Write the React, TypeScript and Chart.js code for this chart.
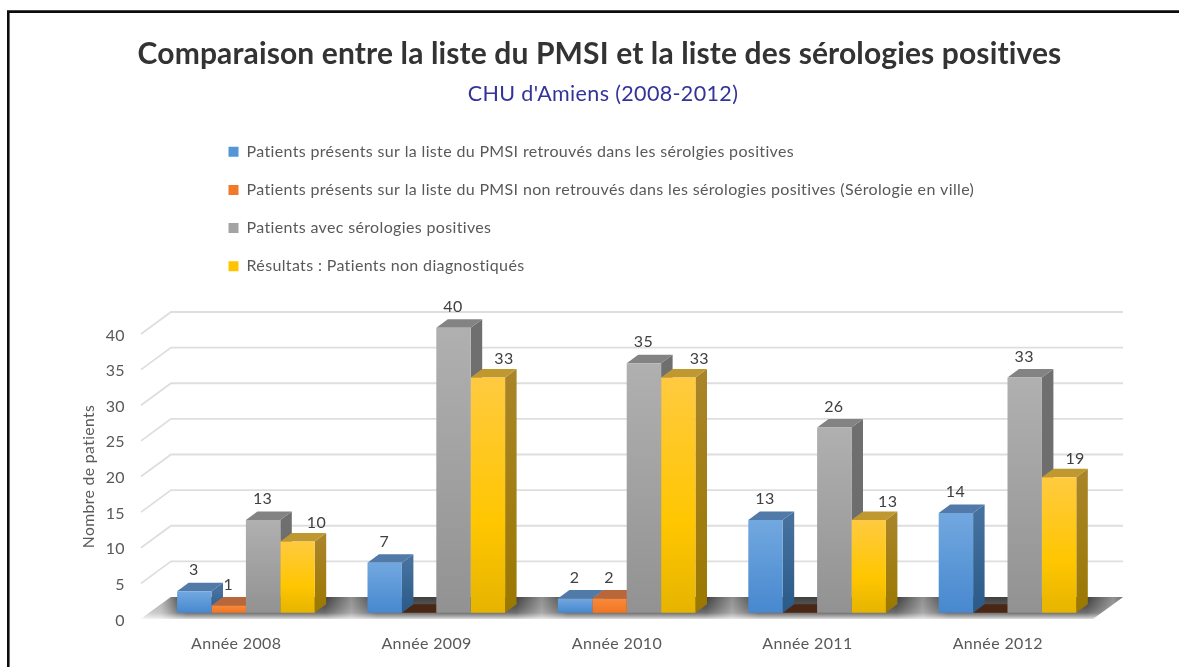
import React, { useEffect, useRef } from "react";
import { Chart, registerables } from "chart.js";

Chart.register(...registerables);

const titleText = "Comparaison entre la liste du PMSI et la liste des sérologies positives";
const subtitleText = "CHU d'Amiens (2008-2012)";
const yAxisTitle = "Nombre de patients";

const categories = ["Année 2008", "Année 2009", "Année 2010", "Année 2011", "Année 2012"];
const seriesNames = [
  "Patients présents sur la liste du PMSI retrouvés dans les sérolgies positives",
  "Patients présents sur la liste du PMSI non retrouvés dans les sérologies positives (Sérologie en ville)",
  "Patients avec sérologies positives",
  "Résultats : Patients non diagnostiqués",
];
const blueValues = [3, 7, 2, 13, 14];
const orangeValues = [1, 0, 2, 0, 0];
const greyValues = [13, 40, 35, 26, 33];
const yellowValues = [10, 33, 33, 13, 19];
const seriesValues = [blueValues, orangeValues, greyValues, yellowValues];

// Face colours per series
const legendColors = ["#5596d6", "#f07a2a", "#a3a3a3", "#ffc400"];
const frontStops = [
  [[0, "#72a8e0"], [1, "#4788cf"]],
  [[0, "#f8893c"], [1, "#f27620"]],
  [[0, "#b0b0b0"], [1, "#929292"]],
  [[0, "#ffca40"], [0.62, "#ffc600"], [1, "#e6b400"]],
];
const sideStops = [
  ["#46719e", "#2a5a88"],
  ["#a85a22", "#a85a22"],
  ["#6f6f6f", "#6b6b6b"],
  ["#a98428", "#9a7800"],
];
const topColors = ["#517aa8", "#b9663a", "#838383", "#c09830"];
const zeroTopColor = "#4a2614";

// Label nudges for the yellow series, as placed in the source chart
const yellowLabelNudge = [19, 16, 21, 19, 16];

const BAR_SHIFT = { x: 9.7, y: -6.3 };
const BAR_DEPTH = { x: 11.5, y: -8.5 };
const WALL_DEPTH = { x: 30, y: -22 };
const FONT = "Lato, Carlito, Calibri, sans-serif";
const TEXT = "#595959";
const BODY_TRACKING = "0.35px";
const TITLE_TRACKING = "0.13px";

function poly(ctx: any, pts: number[][], fill: any) {
  ctx.beginPath();
  pts.forEach((p, i) => (i ? ctx.lineTo(p[0], p[1]) : ctx.moveTo(p[0], p[1])));
  ctx.closePath();
  ctx.fillStyle = fill;
  ctx.fill();
}

const scenePlugin = {
  id: "scene3d",
  beforeDraw(chart: any) {
    const { ctx, width, height } = chart;
    ctx.save();
    ctx.strokeStyle = "#0c0c0c";
    ctx.lineWidth = 2.6;
    ctx.beginPath();
    ctx.moveTo(8.3, height);
    ctx.lineTo(8.3, 11.6);
    ctx.lineTo(width, 11.6);
    ctx.stroke();
    ctx.restore();
    ctx.letterSpacing = BODY_TRACKING;
  },
  afterLayout(chart: any) {
    // Place the title blocks and the legend as the source chart does
    const boxes = chart.boxes as any[];
    const setBox = (b: any, l: number, t: number, r: number, h: number) => {
      b.left = l; b.right = r; b.top = t; b.bottom = t + h; b.width = r - l; b.height = h;
    };
    const titleBoxes = boxes.filter((b) => b.options && typeof b.options.text === "string" && b.options.text.length && b.position === "top");
    titleBoxes.forEach((b) => {
      if (b.options.text === titleText) {
        setBox(b, 0, 36, 1199, 36);
        if (!b.__tracked) {
          b.__tracked = true;
          const drawTitle = b.draw;
          b.draw = function (...args: any[]) {
            chart.ctx.letterSpacing = TITLE_TRACKING;
            drawTitle.apply(this, args);
            chart.ctx.letterSpacing = BODY_TRACKING;
          };
        }
      } else setBox(b, 0, 81, 1206, 28);
    });
    if (chart.legend) setBox(chart.legend, 206.3, 121.5, 1100, 320);
    // The value labels of the source sit slightly below their grid level
    const ys = chart.scales.y;
    if (!ys.__nudged) {
      ys.__nudged = true;
      const drawLabels = ys.drawLabels;
      ys.drawLabels = function (...args: any[]) {
        chart.ctx.save();
        chart.ctx.translate(1, 1.4);
        drawLabels.apply(this, args);
        chart.ctx.restore();
      };
    }
  },
  beforeDatasetsDraw(chart: any) {
    const { ctx, scales } = chart;
    const xs = scales.x;
    const ys = scales.y;
    const y0 = ys.getPixelForValue(0);
    ctx.save();
    // wall grid
    ctx.strokeStyle = "#dedede";
    ctx.lineWidth = 1.8;
    ys.ticks.forEach((t: any) => {
      if (t.value === 0) return;
      const py = ys.getPixelForValue(t.value);
      ctx.beginPath();
      ctx.moveTo(xs.left, py);
      ctx.lineTo(xs.left + WALL_DEPTH.x, py + WALL_DEPTH.y);
      ctx.lineTo(xs.right + WALL_DEPTH.x, py + WALL_DEPTH.y);
      ctx.stroke();
    });
    // floor
    const floor = [
      [xs.left, y0],
      [xs.left + WALL_DEPTH.x, y0 + WALL_DEPTH.y],
      [xs.right + WALL_DEPTH.x, y0 + WALL_DEPTH.y],
      [xs.right, y0],
    ];
    const g = ctx.createLinearGradient(0, y0 + WALL_DEPTH.y, 0, y0);
    g.addColorStop(0, "#404040");
    g.addColorStop(0.5, "#5a5a5a");
    g.addColorStop(0.72, "#707070");
    g.addColorStop(0.88, "#aaaaaa");
    g.addColorStop(1, "#dddddd");
    poly(ctx, floor, g);
    ctx.save();
    ctx.beginPath();
    floor.forEach((p, i) => (i ? ctx.lineTo(p[0], p[1]) : ctx.moveTo(p[0], p[1])));
    ctx.closePath();
    ctx.clip();
    const step = (xs.right - xs.left) / categories.length;
    for (let i = 0; i <= categories.length; i++) {
      const cx = xs.left + step * i + 20;
      const s = ctx.createLinearGradient(cx - 26, 0, cx + 26, 0);
      s.addColorStop(0, "rgba(255,255,255,0)");
      s.addColorStop(0.5, "rgba(255,255,255,0.42)");
      s.addColorStop(1, "rgba(255,255,255,0)");
      ctx.fillStyle = s;
      ctx.fillRect(cx - 26, y0 + WALL_DEPTH.y, 52, -WALL_DEPTH.y);
    }
    // left edge fade
    const fade = ctx.createLinearGradient(xs.left, 0, xs.left + 36, 0);
    fade.addColorStop(0, "rgba(255,255,255,0.75)");
    fade.addColorStop(1, "rgba(255,255,255,0)");
    ctx.fillStyle = fade;
    ctx.fillRect(xs.left, y0 + WALL_DEPTH.y, 36, -WALL_DEPTH.y);
    ctx.restore();

    // Side and top faces, back to front along the series; the front faces come later
    ctx.translate(BAR_SHIFT.x, BAR_SHIFT.y);
    seriesValues.forEach((vals, si) => {
      const meta = chart.getDatasetMeta(si);
      vals.forEach((v, i) => {
        const bar = meta.data[i];
        const l = bar.x - bar.width / 2;
        const r = bar.x + bar.width / 2;
        const top = bar.y;
        const d = BAR_DEPTH;
        if (v > 0) {
          const sg = ctx.createLinearGradient(0, top, 0, y0);
          sg.addColorStop(0, sideStops[si][0]);
          sg.addColorStop(1, sideStops[si][1]);
          poly(ctx, [[r, top], [r + d.x, top + d.y], [r + d.x, y0 + d.y], [r, y0]], sg);
        }
        poly(ctx, [[l, top], [l + d.x, top + d.y], [r + d.x, top + d.y], [r, top]], v > 0 ? topColors[si] : zeroTopColor);
      });
    });
    ctx.restore();
  },
  beforeDatasetDraw(chart: any) {
    chart.ctx.save();
    chart.ctx.translate(BAR_SHIFT.x, BAR_SHIFT.y);
  },
  afterDatasetDraw(chart: any) {
    chart.ctx.restore();
  },
  afterDatasetsDraw(chart: any) {
    const { ctx } = chart;
    ctx.save();
    ctx.font = `16px ${FONT}`;
    ctx.fillStyle = "#404040";
    ctx.textAlign = "center";
    ctx.textBaseline = "middle";
    seriesValues.forEach((vals, si) => {
      const meta = chart.getDatasetMeta(si);
      vals.forEach((v, i) => {
        if (v === 0) return;
        const bar = meta.data[i];
        const backTop = bar.y + BAR_SHIFT.y + BAR_DEPTH.y;
        const nudge = si === 3 ? yellowLabelNudge[i] : -0.5;
        const lift = si === 3 ? 10 : 12.5;
        ctx.fillText(String(v), bar.x + BAR_SHIFT.x + nudge, backTop - lift);
      });
    });
    ctx.restore();
  },
};

export default function App() {
  const ref = useRef<HTMLCanvasElement>(null);
  useEffect(() => {
    document.body.style.margin = "0";
    document.body.style.background = "#fff";
    const chart = new Chart(ref.current as HTMLCanvasElement, {
      type: "bar",
      data: {
        labels: categories,
        datasets: seriesValues.map((values, si) => ({
          label: seriesNames[si],
          data: values,
          clip: false as any,
          barPercentage: 1,
          categoryPercentage: 0.7227,
          borderWidth: 0,
          backgroundColor: (c: any) => {
            if (c.type !== "data" || !c.chart.chartArea) return legendColors[si];
            const s = c.chart.scales.y;
            const y1 = s.getPixelForValue(values[c.dataIndex]);
            const y0 = s.getPixelForValue(0);
            if (y1 === y0) return legendColors[si];
            const g = c.chart.ctx.createLinearGradient(0, y1, 0, y0);
            frontStops[si].forEach((st: any) => g.addColorStop(st[0], st[1]));
            return g;
          },
        })),
      },
      options: {
        responsive: false,
        animation: false,
        devicePixelRatio: 1,
        layout: { padding: { top: 272.2, left: 78, right: 86, bottom: 8 } },
        plugins: {
          tooltip: { enabled: false },
          title: {
            display: true,
            text: titleText,
            color: "#333333",
            font: { family: FONT, size: 30, weight: "bold" },
            padding: { top: 0, bottom: 0 },
          },
          subtitle: {
            display: true,
            text: subtitleText,
            color: "#333399",
            font: { family: FONT, size: 21.5, weight: "normal" },
            padding: { top: 0, bottom: 0 },
          },
          legend: {
            position: "left",
            align: "start",
            maxWidth: 1,
            onClick: undefined as any,
            labels: {
              boxWidth: 10,
              boxHeight: 10,
              padding: 22.2,
              color: TEXT,
              font: { family: FONT, size: 16 },
              generateLabels: (chart: any) =>
                (Chart.defaults.plugins.legend.labels as any)
                  .generateLabels(chart)
                  .map((item: any, i: number) => ({ ...item, fillStyle: legendColors[i] })),
            },
          },
        },
        scales: {
          x: {
            afterFit: (s: any) => { s.height = 40; },
            grid: { display: false, drawTicks: false },
            border: { display: false },
            ticks: { color: TEXT, font: { family: FONT, size: 16 }, padding: 15, maxRotation: 0, autoSkip: false },
          },
          y: {
            min: 0,
            max: 40,
            afterFit: (s: any) => { s.width = 62; },
            grid: { display: false, drawTicks: false },
            border: { display: false },
            ticks: { stepSize: 5, color: TEXT, font: { family: FONT, size: 16 }, padding: 17 },
            title: {
              display: true,
              text: yAxisTitle,
              color: TEXT,
              font: { family: FONT, size: 15.8 },
              padding: { top: 0, bottom: 0 },
            },
          },
        },
      },
      plugins: [scenePlugin],
    } as any);
    return () => chart.destroy();
  }, []);
  return (
    <canvas
      ref={ref}
      width={1179}
      height={667}
      style={{ display: "block", width: 1179, height: 667, filter: "blur(0.4px)" }}
    />
  );
}
